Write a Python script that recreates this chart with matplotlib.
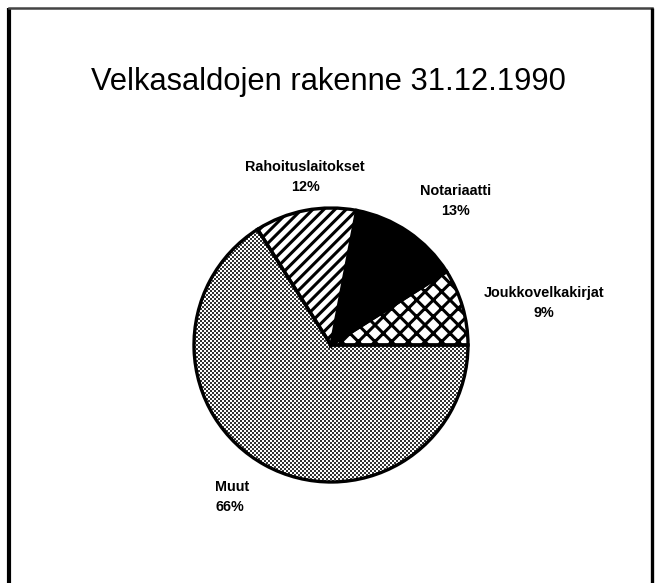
import matplotlib.pyplot as plt
import numpy as np

# --- data ---
kategoriat = ["Joukkovelkakirjat", "Notariaatti", "Rahoituslaitokset", "Muut"]
osuudet = [9, 13, 12, 66]
otsikko = "Velkasaldojen rakenne 31.12.1990"

# --- layout (pixels, origin bottom-left) ---
W, H = 664, 583
keskipiste = (331, H - 345)
sade = 137
# label block centres, and alignment
label_pos = [(544, H - 303), (456, H - 201), (305, H - 177), (215, H - 497)]
label_ha = ["center", "center", "center", "left"]

plt.rcParams['font.family'] = ['Liberation Sans', 'DejaVu Sans']
plt.rcParams['hatch.linewidth'] = 1.1

fig = plt.figure(figsize=(W / 200, H / 200), dpi=200)
ax = fig.add_axes([0, 0, 1, 1])

wedges, _ = ax.pie(osuudet, startangle=0, counterclock=True,
                   center=keskipiste, radius=sade,
                   wedgeprops=dict(edgecolor="black", linewidth=1.2))

# fill styles like the old print
wedges[0].set_facecolor("white")
wedges[0].set_hatch("xxxx")
wedges[1].set_facecolor("black")
wedges[2].set_facecolor("white")
wedges[2].set_hatch("//////")
wedges[3].set_facecolor("none")

# stipple texture for "Muut", clipped to its wedge
yy, xx = np.indices((H, W))
stipple = ((yy // 2 + xx // 2) % 2 == 0).astype(float)
img = ax.imshow(1 - stipple * 0.8, cmap="gray", vmin=0, vmax=1,
                extent=(0, W, 0, H), interpolation="nearest", zorder=0.5)
img.set_clip_path(wedges[3])
for w in wedges:
    w.set_zorder(1)

for nimi, arvo, (x, y), ha in zip(kategoriat, osuudet, label_pos, label_ha):
    ax.text(x, y, f"{nimi}\n{arvo}%", ha=ha, va="center", ma=ha,
            fontsize=5.2, fontweight="bold", linespacing=1.55)

ax.text(328, H - 90, otsikko, ha="center", va="baseline", fontsize=11.1)

# frame of the scanned page
ax.plot([9, 9], [0, H - 8], color="black", lw=1.5, solid_capstyle="butt")
ax.plot([9, 652], [H - 8, H - 8], color="#444444", lw=0.9)
ax.plot([652, 652], [H - 8, 0], color="black", lw=1.2, solid_capstyle="butt")

ax.set_xlim(0, W)
ax.set_ylim(0, H)
ax.axis("off")

fig.savefig("out.png", dpi=200)
